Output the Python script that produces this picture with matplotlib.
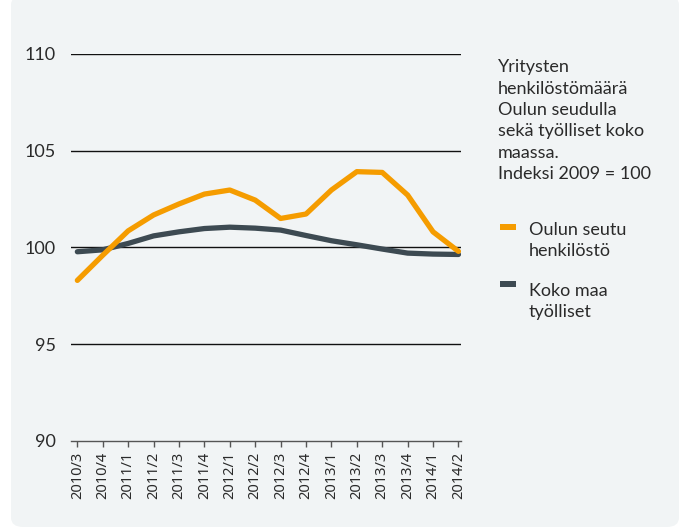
import matplotlib
matplotlib.use("Agg")
import matplotlib.pyplot as plt
from matplotlib.patches import FancyBboxPatch, Rectangle

periods = ["2010/3", "2010/4", "2011/1", "2011/2", "2011/3", "2011/4", "2012/1", "2012/2",
           "2012/3", "2012/4", "2013/1", "2013/2", "2013/3", "2013/4", "2014/1", "2014/2"]
oulu = [98.3, 99.6, 100.86, 101.68, 102.25, 102.76, 102.97, 102.45,
        101.5, 101.73, 102.97, 103.92, 103.88, 102.71, 100.81, 99.8]
koko_maa = [99.78, 99.88, 100.21, 100.6, 100.81, 100.98, 101.05, 101.0,
            100.9, 100.62, 100.35, 100.14, 99.92, 99.71, 99.66, 99.64]
yticks = [90, 95, 100, 105, 110]

ORANGE = "#f59c00"
DARK = "#3d4a52"
BG = "#f1f4f5"
TXTC = "#2a2a2a"

fig = plt.figure(figsize=(6.81, 5.27), dpi=100)
fig.patch.set_facecolor("white")
card = FancyBboxPatch((11 / 681, 0), (679 - 11) / 681, (527 - 6) / 527 + 0.02,
                      boxstyle="round,pad=0,rounding_size=0.018", transform=fig.transFigure,
                      facecolor=BG, edgecolor="none", zorder=-5)
fig.patches.append(card)

ax = fig.add_axes([71 / 681, 1 - 441 / 527, (461 - 71) / 681, (441 - 54) / 527])
ax.set_zorder(2)
ax.patch.set_visible(False)
x = list(range(len(periods)))
ax.plot(x, koko_maa, color=DARK, lw=3.8, solid_capstyle="round", solid_joinstyle="round", zorder=3)
ax.plot(x, oulu, color=ORANGE, lw=3.8, solid_capstyle="round", solid_joinstyle="round", zorder=4)

ax.set_ylim(90, 110)
ax.set_xlim(-0.25, 15.1)
for v in yticks[1:]:
    ax.axhline(v, color="#111111", lw=1, zorder=2)
ax.set_yticks(yticks)
ax.set_yticklabels([str(v) for v in yticks], fontfamily="Lato", fontsize=13, color=TXTC)
ax.tick_params(axis="y", length=0, pad=11)
ax.set_xticks(x)
ax.set_xticklabels(periods, rotation=90, fontfamily="Noto Sans", fontsize=10.5, color=TXTC)
ax.tick_params(axis="x", length=4, color="#555555", width=1, pad=4)
for s in ["top", "right", "left"]:
    ax.spines[s].set_visible(False)
ax.spines["bottom"].set_color("#555555")
ax.spines["bottom"].set_linewidth(1)

TXT = dict(fontfamily="Lato", fontsize=13, color=TXTC, va="baseline", ha="left", linespacing=1.41)
fig.text(498 / 681, 1 - 179 / 527,
         "Yritysten\nhenkilöstömäärä\nOulun seudulla\nsekä työlliset koko\nmaassa.\nIndeksi 2009 = 100", **TXT)

fig.patches.append(Rectangle((500 / 681, 1 - 230 / 527), 16 / 681, 6 / 527,
                             transform=fig.transFigure, facecolor=ORANGE, edgecolor="none", zorder=3))
fig.text(529 / 681, 1 - 256 / 527, "Oulun seutu\nhenkilöstö", **TXT)
fig.patches.append(Rectangle((500 / 681, 1 - 287 / 527), 16 / 681, 6 / 527,
                             transform=fig.transFigure, facecolor=DARK, edgecolor="none", zorder=3))
fig.text(529 / 681, 1 - 317 / 527, "Koko maa\ntyölliset", **TXT)

fig.savefig("out.png", dpi=100, facecolor="white")
